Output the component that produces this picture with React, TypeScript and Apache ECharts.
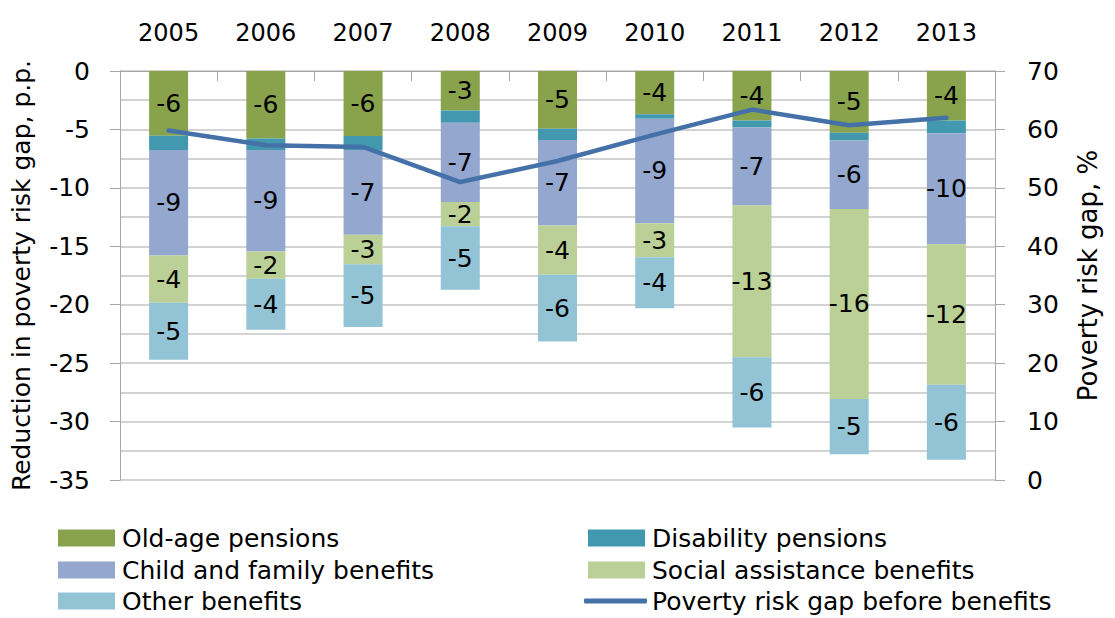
import React, { useEffect, useRef } from "react";
import * as echarts from "echarts";

const years = ["2005", "2006", "2007", "2008", "2009", "2010", "2011", "2012", "2013"];
const oldAge = [-5.55, -5.78, -5.56, -3.37, -4.94, -3.71, -4.23, -5.28, -4.23];
const disability = [-1.2, -0.97, -1.2, -1.06, -0.97, -0.37, -0.6, -0.66, -1.09];
const childFamily = [-9.03, -8.69, -7.25, -6.77, -7.32, -8.95, -6.69, -5.86, -9.51];
const socialAssist = [-4.06, -2.34, -2.53, -2.09, -4.2, -2.91, -12.98, -16.26, -12.01];
const otherBen = [-4.86, -4.36, -5.37, -5.43, -5.72, -4.37, -6.0, -4.74, -6.43];
const gapBefore = [59.8, 57.3, 57.0, 51.0, 54.6, 59.1, 63.4, 60.7, 62.0];

const FONT = "DejaVu Sans";

export default function App() {
  const ref = useRef<HTMLDivElement>(null);
  useEffect(() => {
    if (!ref.current) return;
    const chart = echarts.init(ref.current, null, { renderer: "svg" });
    const label = (show: boolean) => ({
      show,
      position: "inside",
      color: "#000",
      fontFamily: FONT,
      fontSize: 25,
      formatter: (p: any) => String(Math.round(p.value)),
    });
    const bar = (name: string, data: number[], color: string, showLabel: boolean) => ({
      name,
      type: "bar",
      stack: "total",
      data,
      barWidth: 39,
      itemStyle: { color },
      label: label(showLabel),
    });
    const legendAt = (name: string, left: number, top: number, isLine = false) => {
      const lg: any = {
        data: [{ name, icon: isLine ? "roundRect" : "rect" }],
        left,
        top,
        itemWidth: isLine ? 63 : 57,
        itemHeight: isLine ? 5 : 17,
        padding: 0,
        textStyle: {
          fontFamily: FONT,
          fontSize: 25,
          lineHeight: 26,
          color: "#000",
          padding: [0, 0, 0, isLine ? 0 : 2],
        },
        selectedMode: false,
      };
      if (isLine) lg.itemStyle = { color: "#4571A9", borderRadius: 3 };
      return lg;
    };
    chart.setOption({
      animation: false,
      textStyle: { fontFamily: FONT },
      grid: { left: 120, right: 120, top: 71, bottom: 138 },
      legend: [
        legendAt("Old-age pensions", 58, 525),
        legendAt("Disability pensions", 588, 525),
        legendAt("Child and family benefits", 58, 557),
        legendAt("Social assistance benefits", 588, 557),
        legendAt("Other benefits", 58, 588),
        legendAt("Poverty risk gap before benefits", 584, 588, true),
      ],
      xAxis: {
        type: "category",
        data: years,
        position: "top",
        axisLine: { show: true, lineStyle: { color: "#A6A6A6" } },
        axisTick: { show: true, inside: true, length: 10, lineStyle: { color: "#A6A6A6" } },
        axisLabel: { color: "#000", fontFamily: FONT, fontSize: 24, margin: 26 },
      },
      yAxis: [
        {
          type: "value",
          min: -35,
          max: 0,
          interval: 5,
          name: "Reduction in poverty risk gap, p.p.",
          nameLocation: "middle",
          nameRotate: 90,
          nameGap: 86,
          nameTextStyle: { color: "#000", fontFamily: FONT, fontSize: 25 },
          axisLine: { show: true, lineStyle: { color: "#A6A6A6" } },
          axisTick: { show: true, length: 10, lineStyle: { color: "#A6A6A6" } },
          axisLabel: { color: "#000", fontFamily: FONT, fontSize: 25, margin: 30 },
          splitLine: { show: true, lineStyle: { color: "#C4C4C4", width: 1.5 } },
          minorTick: { show: false, splitNumber: 2 },
          minorSplitLine: { show: true, lineStyle: { color: "#C4C4C4", width: 1.5 } },
        },
        {
          type: "value",
          min: 0,
          max: 70,
          interval: 10,
          position: "right",
          name: "Poverty risk gap, %",
          nameLocation: "middle",
          nameRotate: 90,
          nameGap: 80,
          nameTextStyle: { color: "#000", fontFamily: FONT, fontSize: 26 },
          axisLine: { show: true, lineStyle: { color: "#A6A6A6" } },
          axisTick: { show: true, length: 10, lineStyle: { color: "#A6A6A6" } },
          axisLabel: { color: "#000", fontFamily: FONT, fontSize: 25, margin: 32 },
          splitLine: { show: false },
        },
      ],
      series: [
        bar("Old-age pensions", oldAge, "#88A34C", true),
        bar("Disability pensions", disability, "#4298AE", false),
        bar("Child and family benefits", childFamily, "#93A7CF", true),
        bar("Social assistance benefits", socialAssist, "#BBD096", true),
        bar("Other benefits", otherBen, "#92C4D5", true),
        {
          name: "Poverty risk gap before benefits",
          type: "line",
          yAxisIndex: 1,
          data: gapBefore,
          symbol: "none",
          itemStyle: { color: "#4571A9" },
          lineStyle: { color: "#4571A9", width: 4.5, cap: "round", join: "round" },
          z: 5,
        },
      ],
    });
    return () => chart.dispose();
  }, []);
  return (
    <div
      ref={ref}
      style={{ position: "fixed", left: 0, top: 0, width: 1115, height: 618, background: "#fff" }}
    />
  );
}
